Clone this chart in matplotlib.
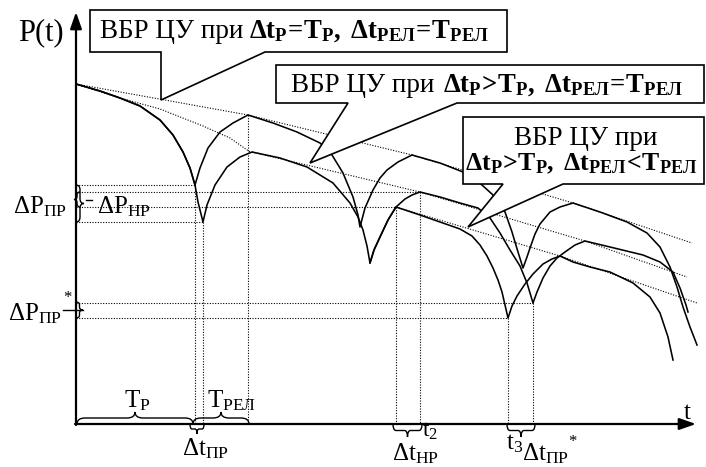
import matplotlib
matplotlib.use('Agg')
import matplotlib.pyplot as plt
from matplotlib.path import Path
from matplotlib.patches import PathPatch, Polygon
import numpy as np

plt.rcParams['font.family'] = ['Liberation Serif', 'DejaVu Serif']
plt.rcParams['mathtext.fontset'] = 'custom'
plt.rcParams['mathtext.rm'] = 'Liberation Serif'
plt.rcParams['mathtext.it'] = 'Liberation Serif:italic'
plt.rcParams['mathtext.bf'] = 'Liberation Serif:bold'

# --- schematic P(t) curves, (t, P) (P axis points down) ---
decay_1 = [(76, 84), (100, 91), (120, 98), (140, 106), (160, 120), (173, 135),
           (183, 152), (190, 168), (195, 185)]
decay_1_tail = [(195, 185), (198, 202), (203, 222)]

rec_A1 = [(195, 185), (200, 168), (208, 148), (220, 132), (233, 123), (248, 115)]
seg_A2 = [(248, 115), (273, 123), (297, 132), (320, 143), (327, 149), (332, 155),
          (343, 173), (353, 197), (358, 215), (360, 227)]
rec_A2 = [(360, 227), (365, 208), (373, 190), (380, 178), (387, 170), (398, 162), (412, 155)]
seg_A3 = [(412, 155), (440, 163), (463, 172), (482, 185), (493, 195), (505, 212),
          (512, 232), (518, 252), (523, 268)]
rec_A3 = [(523, 268), (527, 257), (530, 248), (535, 234), (540, 224), (550, 212),
          (560, 207), (573, 203)]
seg_A4 = [(573, 203), (600, 212), (627, 222), (647, 233), (660, 247), (670, 267),
          (677, 287), (683, 307), (690, 327), (697, 345)]

rec_B1 = [(203, 222), (207, 205), (215, 185), (227, 167), (240, 157), (252, 152)]
seg_B2 = [(252, 152), (280, 158), (307, 167), (333, 183), (350, 203), (358, 217),
          (363, 230), (367, 246), (370, 263)]
rec_B2a = [(370, 263), (374, 250), (380, 237), (388, 220), (396, 207)]
rec_B2b = [(396, 207), (405, 199), (412, 195), (420, 192)]
seg_B3 = [(420, 192), (440, 197), (460, 203), (478, 208), (490, 218), (500, 233),
          (510, 250), (520, 266), (527, 283), (530, 293), (533, 303)]
rec_B3 = [(533, 303), (537, 292), (543, 278), (550, 266), (557, 258), (565, 252),
          (575, 245), (585, 241)]
seg_B4 = [(585, 241), (610, 247), (643, 255), (660, 262), (673, 272), (680, 288),
          (686, 305), (688, 312)]

seg_C3 = [(396, 207), (420, 215), (440, 222), (460, 229), (472, 236), (480, 245),
          (487, 256), (493, 268), (498, 280), (502, 292), (505, 305), (508, 318)]
rec_C3 = [(508, 318), (512, 306), (517, 296), (525, 284), (533, 274), (543, 264),
          (552, 259), (560, 256)]
seg_C4 = [(560, 256), (573, 262), (590, 267), (610, 272), (633, 283), (650, 297),
          (660, 313), (668, 337), (673, 360)]

# dotted "ideal" lines
ideal_A1 = [(76, 84), (248, 115)]
ideal_B1 = [(76, 84), (120, 98), (160, 109), (203, 126), (230, 138), (250, 152)]
ideal_A2 = [(248, 115), (412, 155)]
ideal_B2 = [(252, 152), (420, 192)]
ideal_A3 = [(412, 155), (573, 203), (692, 243)]
ideal_B3 = [(420, 192), (585, 241), (687, 277)]
ideal_C3 = [(396, 207), (560, 256), (697, 303)]

# guide levels: (point the guide goes to)
h_guides = [rec_A1[0], rec_B2b[-1], rec_B2b[0], rec_B1[0], rec_B3[0], rec_C3[0]]
v_guides = [rec_A1[0], rec_B1[0], rec_A1[-1], rec_B2b[0], rec_B2b[-1], rec_C3[0], rec_B3[0]]

axis_origin = (76, 424)

fig = plt.figure(figsize=(7.06, 4.67), dpi=100)
ax = fig.add_axes([0, 0, 1, 1])
ax.set_xlim(0, 706)
ax.set_ylim(467, 0)
ax.axis('off')

solid = dict(color='black', lw=1.15, solid_joinstyle='round', zorder=3)
dots = dict(color='black', lw=0.8, linestyle=(0, (1, 1.4)), zorder=2)


def curve(*parts):
    pts = []
    for p in parts:
        pts.extend(p if not pts else p[1:])
    return np.array(pts, dtype=float)


for c in [curve(decay_1, rec_A1, seg_A2, rec_A2, seg_A3, rec_A3, seg_A4),
          curve(decay_1, decay_1_tail, rec_B1, seg_B2, rec_B2a, rec_B2b, seg_B3, rec_B3, seg_B4),
          curve(rec_B2a, seg_C3, rec_C3, seg_C4)]:
    ax.plot(c[:, 0], c[:, 1], **solid)

for d in [ideal_A1, ideal_B1, ideal_A2, ideal_B2, ideal_A3, ideal_B3, ideal_C3]:
    d = np.array(d, dtype=float)
    ax.plot(d[:, 0], d[:, 1], **dots)

x0, y0 = axis_origin
for (t, p) in h_guides:
    ax.plot([x0, t], [p, p], **dots)
for (t, p) in v_guides:
    ax.plot([t, t], [p, y0], **dots)

# axes with arrows
ax.annotate('', xy=(x0, 12), xytext=(x0, y0 + 1),
            arrowprops=dict(arrowstyle='-|>,head_length=1.0,head_width=0.35',
                            lw=1.6, color='black', shrinkA=0, shrinkB=0), zorder=4)
ax.annotate('', xy=(696, y0), xytext=(x0 - 1, y0),
            arrowprops=dict(arrowstyle='-|>,head_length=1.0,head_width=0.35',
                            lw=1.6, color='black', shrinkA=0, shrinkB=0), zorder=4)


def brace(p0, p1, depth, r=6, lw=1.0):
    p0 = np.array(p0, float)
    p1 = np.array(p1, float)
    L = np.linalg.norm(p1 - p0)
    u = (p1 - p0) / L
    n = np.array([u[1], -u[0]]) * np.sign(depth)
    h = abs(depth)
    r = min(r, L / 4)

    def P(a, b):
        return p0 + u * a + n * b
    m = L / 2
    verts = [P(0, 0), P(0, h / 2), P(r, h / 2), P(m - r, h / 2), P(m, h / 2), P(m, h),
             P(m, h / 2), P(m + r, h / 2), P(L - r, h / 2), P(L, h / 2), P(L, 0)]
    codes = [Path.MOVETO, Path.CURVE3, Path.CURVE3, Path.LINETO, Path.CURVE3, Path.CURVE3,
             Path.CURVE3, Path.CURVE3, Path.LINETO, Path.CURVE3, Path.CURVE3]
    ax.add_patch(PathPatch(Path(verts, codes), fill=False, lw=lw, color='black', zorder=5))
    return P(m, h)


# braces on the P axis
brace((x0, 185), (x0, 222), 8, r=5)
brace((80, 192), (80, 207), -6, r=3)
ax.plot([86, 92], [199.5, 199.5], color='black', lw=1.0)
tip = brace((x0, 302), (x0, 318), 7, r=3)
ax.plot([tip[0], 63], [tip[1], tip[1]], color='black', lw=1.0)

# braces on the t axis
brace((x0 + 1, y0), (193, y0), 12, r=8)
brace((193, y0), (249, y0), 12, r=8)
brace((190, y0), (204, y0), -10, r=2)
brace((393, y0), (422, y0), -13, r=3)
brace((507, y0), (535, y0), -13, r=3)

# callouts (white filled, drawn on top of the curves)
callouts = [
    [(90, 10), (507, 10), (507, 52), (265, 52), (161, 100), (161, 52), (90, 52)],
    [(276, 65), (704, 65), (704, 103), (457, 103), (310, 163), (348, 103), (276, 103)],
    [(463, 117), (704, 117), (704, 184), (563, 184), (468, 227), (503, 184), (463, 184)],
]
for poly in callouts:
    ax.add_patch(Polygon(poly, closed=True, facecolor='white', edgecolor='black',
                         lw=1.2, zorder=6, joinstyle='miter'))

fs = 18
fr = 19.5
fb = 19.3
T = dict(color='black', va='baseline', zorder=7)
eq = r'\!=\!'
gt = r'\!>\!'
lt = r'\!<\!'
ax.text(100, 38, 'ВБР ЦУ при', fontsize=fr, ha='left', **T)
ax.text(249, 38, '$\\mathbf{\\Delta t_{Р}' + eq + 'T_{Р},\\ \\Delta t_{РЕЛ}' + eq + 'T_{РЕЛ}}$',
        fontsize=fb, ha='left', **T)
ax.text(291, 92, 'ВБР ЦУ при', fontsize=fr, ha='left', **T)
ax.text(443, 92, '$\\mathbf{\\Delta t_{Р}' + gt + 'T_{Р},\\ \\Delta t_{РЕЛ}' + eq + 'T_{РЕЛ}}$',
        fontsize=fb, ha='left', **T)
ax.text(586, 145, 'ВБР ЦУ при', fontsize=fr, ha='center', **T)
ax.text(465, 170, '$\\mathbf{\\Delta t_{Р}' + gt + 'T_{Р},\\ \\Delta t_{РЕЛ}' + lt + 'T_{РЕЛ}}$',
        fontsize=18.6, ha='left', **T)

ax.text(18, 40, 'P(t)', fontsize=22, ha='left', **T)
ax.text(67, 213, '$\\mathrm{\\Delta P_{ПР}}$', fontsize=fs, ha='right', **T)
ax.text(97, 213, '$\\mathrm{\\Delta P_{НР}}$', fontsize=fs, ha='left', **T)
ax.text(62, 320, '$\\mathrm{\\Delta P_{ПР}}$', fontsize=fs, ha='right', **T)
ax.text(63, 302, '*', fontsize=12, ha='left', **T)

ax.text(124, 407, '$\\mathrm{T_{Р}}$', fontsize=fs, ha='left', **T)
ax.text(207, 407, '$\\mathrm{T_{РЕЛ}}$', fontsize=fs, ha='left', **T)
ax.text(182, 455, '$\\mathrm{\\Delta t_{ПР}}$', fontsize=fs, ha='left', **T)
ax.text(392, 460, '$\\mathrm{\\Delta t_{НР}}$', fontsize=fs, ha='left', **T)
ax.text(422, 437, '$\\mathrm{t_{2}}$', fontsize=17, ha='left', **T)
ax.text(506, 449, '$\\mathrm{t_{3}}$', fontsize=fs, ha='left', **T)
ax.text(522, 460, '$\\mathrm{\\Delta t_{ПР}}$', fontsize=fs, ha='left', **T)
ax.text(568, 446, '*', fontsize=12, ha='left', **T)
ax.text(684, 419, 't', fontsize=fs, ha='left', **T)

fig.savefig('out.png', dpi=100, facecolor='white')
